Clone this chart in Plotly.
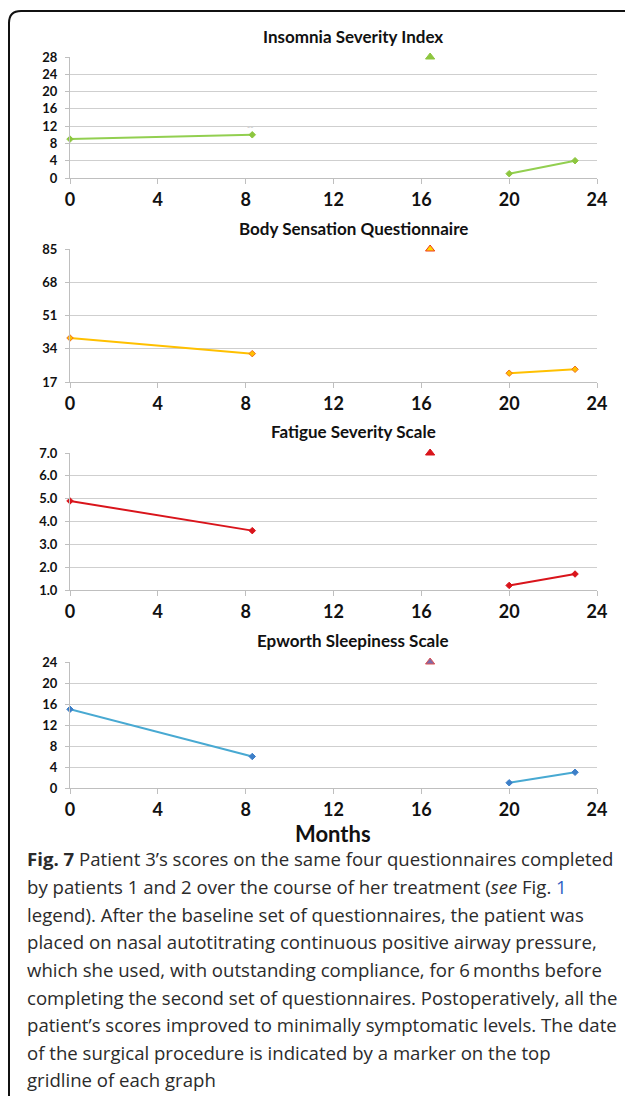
import plotly.graph_objects as go

W, H = 625, 1096

# ---------------- data ----------------
months = [0, 8.3, None, 20, 23]
surgery_month = [16.4]

isi_scores = [9, 10, None, 1, 4]
bsq_scores = [39.5, 31.5, None, 21.5, 23.5]
fss_scores = [4.9, 3.6, None, 1.2, 1.7]
ess_scores = [15, 6, None, 1, 3]

isi_top = [28]
bsq_top = [85]
fss_top = [7.0]
ess_top = [24]

titles = ["Insomnia Severity Index", "Body Sensation Questionnaire",
          "Fatigue Severity Scale", "Epworth Sleepiness Scale"]
x_ticks = [0, 4, 8, 12, 16, 20, 24]
isi_ticks = [0, 4, 8, 12, 16, 20, 24, 28]
bsq_ticks = [17, 34, 51, 68, 85]
fss_ticks = [1, 2, 3, 4, 5, 6, 7]
ess_ticks = [0, 4, 8, 12, 16, 20, 24]

caption_lines = [
    "<b>Fig. 7</b> Patient 3\u2019s scores on the same four questionnaires completed",
    "by patients 1 and 2 over the course of her treatment (<i>see</i> Fig. <span style='color:#2f5fc4'>1</span>",
    "legend). After the baseline set of questionnaires, the patient was",
    "placed on nasal autotitrating continuous positive airway pressure,",
    "which she used, with outstanding compliance, for 6\u2009months before",
    "completing the second set of questionnaires. Postoperatively, all the",
    "patient\u2019s scores improved to minimally symptomatic levels. The date",
    "of the surgical procedure is indicated by a marker on the top",
    "gridline of each graph",
]

# ---------------- helpers ----------------
def px(x):
    return x / W

def py(y):
    return 1 - y / H

panels = [
    dict(scores=isi_scores, top=isi_top, ticks=isi_ticks, rng=[0, 28], fmt="d",
         line="#92CF50", mk="#8DC63F", mkline="#8DC63F", tri="#8DC63F", triline="#8DC63F",
         ypix=(178, 57), title_y=36),
    dict(scores=bsq_scores, top=bsq_top, ticks=bsq_ticks, rng=[17, 85], fmt="d",
         line="#FFC000", mk="#FFC000", mkline="#F0701A", tri="#FFD700", triline="#F03A1A",
         ypix=(382, 249), title_y=228),
    dict(scores=fss_scores, top=fss_top, ticks=fss_ticks, rng=[1, 7], fmt=".1f",
         line="#D9141B", mk="#D9141B", mkline="#D9141B", tri="#D9141B", triline="#D9141B",
         ypix=(590, 453), title_y=432),
    dict(scores=ess_scores, top=ess_top, ticks=ess_ticks, rng=[0, 24], fmt="d",
         line="#48A9D2", mk="#3D7FC8", mkline="#3D7FC8", tri="#7E6AA8", triline="#E05050",
         ypix=(788, 662), title_y=640),
]

fig = go.Figure()
layout = dict(
    width=W, height=H, autosize=False,
    margin=dict(l=0, r=0, t=0, b=0, pad=0, autoexpand=False),
    paper_bgcolor="white", plot_bgcolor="white",
    showlegend=False,
)
annotations = []

label_font = "Lato"
grid_col = "#CFCFCF"

for i, p in enumerate(panels, start=1):
    xa = "x" if i == 1 else f"x{i}"
    ya = "y" if i == 1 else f"y{i}"
    fig.add_trace(go.Scatter(
        x=months, y=p["scores"], xaxis=xa, yaxis=ya, mode="lines+markers",
        connectgaps=False,
        line=dict(color=p["line"], width=2),
        marker=dict(symbol="diamond", size=5, color=p["mk"],
                    line=dict(color=p["mkline"], width=1)),
        cliponaxis=False, hoverinfo="skip",
    ))
    fig.add_trace(go.Scatter(
        x=surgery_month, y=p["top"], xaxis=xa, yaxis=ya, mode="markers",
        marker=dict(symbol="triangle-up", size=8, color=p["tri"],
                    line=dict(color=p["triline"], width=1)),
        cliponaxis=False, hoverinfo="skip",
    ))
    xkey = "xaxis" if i == 1 else f"xaxis{i}"
    ykey = "yaxis" if i == 1 else f"yaxis{i}"
    layout[xkey] = dict(
        domain=[px(70), px(597)], range=[0, 24], anchor=ya,
        tickmode="array", tickvals=x_ticks, ticktext=[str(t) for t in x_ticks],
        showgrid=False, zeroline=False,
        showline=True, linecolor="#BFBFBF", linewidth=1,
        ticks="outside", ticklen=5, tickcolor="#BFBFBF",
        tickfont=dict(family=label_font, size=18, color="#111111", weight="bold"),
        fixedrange=True, automargin=False,
    )
    y0, y1 = p["ypix"]
    ticktext = [format(t, p["fmt"]) if p["fmt"] != "d" else str(t) for t in p["ticks"]]
    layout[ykey] = dict(
        domain=[py(y0), py(y1)], range=p["rng"], anchor=xa,
        tickmode="array", tickvals=p["ticks"], ticktext=ticktext,
        showgrid=True, gridcolor=grid_col, gridwidth=1, zeroline=False,
        showline=True, linecolor="#BFBFBF", linewidth=1,
        ticks="outside", ticklen=4, tickcolor="#BFBFBF",
        tickfont=dict(family=label_font, size=13, color="#111111", weight="bold"),
        ticklabelstandoff=5,
        fixedrange=True, automargin=False,
    )
    annotations.append(dict(
        text=titles[i - 1], xref="paper", yref="paper",
        x=px(353), y=py(p["title_y"]), xanchor="center", yanchor="middle",
        showarrow=False,
        font=dict(family=label_font, size=17, color="#111111", weight="bold"),
    ))

# small grey mark near the second ISI point
annotations.append(dict(
    text="\u2012\u2012", xref="x", yref="y", x=8.2, y=12, showarrow=False,
    font=dict(family=label_font, size=6, color="#999999"),
))

annotations.append(dict(
    text="Months", xref="paper", yref="paper", x=px(333), y=py(833),
    xanchor="center", yanchor="middle", showarrow=False,
    font=dict(family=label_font, size=22, color="#111111", weight="bold"),
))

cap_y0 = 859
cap_step = 27.6
for k, line in enumerate(caption_lines):
    annotations.append(dict(
        text=line, xref="paper", yref="paper", x=px(25), y=py(cap_y0 + k * cap_step),
        xanchor="left", yanchor="middle", showarrow=False, align="left",
        font=dict(family="Open Sans", size=18.6, color="#2b2b2b"),
    ))

layout["annotations"] = annotations

# rounded frame (open at right and bottom)
xl, yt, r = 9, 11, 12
path = (f"M {px(xl)} {py(H + 10)} L {px(xl)} {py(yt + r)} "
        f"Q {px(xl)} {py(yt)} {px(xl + r)} {py(yt)} L {px(W + 10)} {py(yt)}")
layout["shapes"] = [dict(type="path", xref="paper", yref="paper", path=path,
                         line=dict(color="#111111", width=2))]

fig.update_layout(**layout)
fig.write_html("out.html", config={"displayModeBar": False},
               post_script="document.body.style.margin='0';document.body.style.overflow='hidden';")
